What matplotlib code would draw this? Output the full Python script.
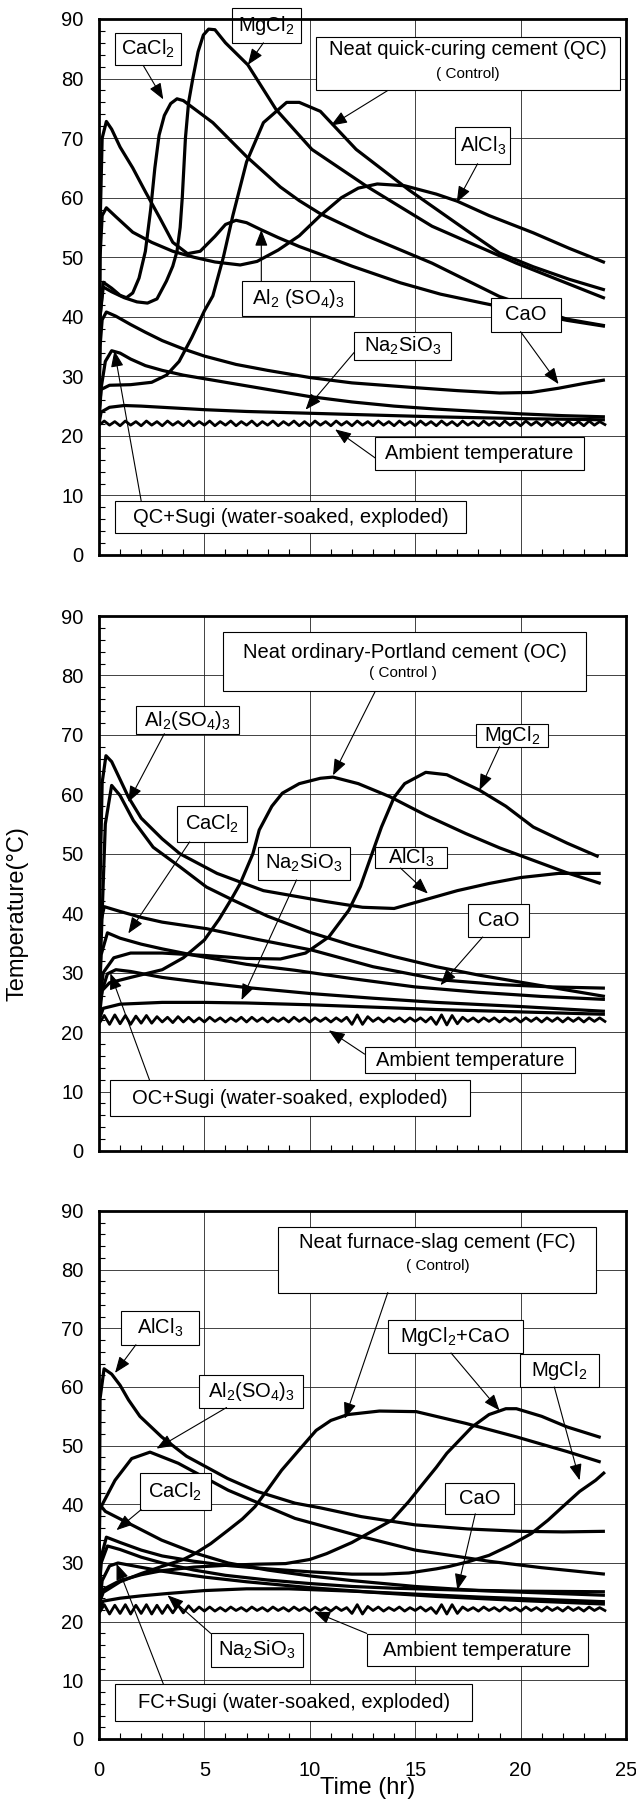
import matplotlib
matplotlib.use("Agg")
import matplotlib.pyplot as plt
from matplotlib.patches import Rectangle
from matplotlib.ticker import MultipleLocator

plt.rcParams['font.family'] = ['Liberation Sans', 'DejaVu Sans']
plt.rcParams['mathtext.fontset'] = 'custom'
plt.rcParams['mathtext.rm'] = 'Liberation Sans'
plt.rcParams['mathtext.it'] = 'Liberation Sans'
plt.rcParams['mathtext.bf'] = 'Liberation Sans:bold'

# ---------------- data: Panel 1 (quick-curing cement, QC) ----------------
qc_control_t = [0, 0.1, 0.5, 1.5, 2.5, 3.2, 3.8, 4.4, 5.0, 5.4, 5.9, 6.35, 7.0, 7.8, 8.9, 9.5, 10.5, 12.2, 14.7, 17.4, 19.0, 20.6, 22.3, 24.0]
qc_control_T = [24, 27.8, 28.5, 28.6, 29.0, 30.2, 32.5, 36.5, 41.0, 43.5, 50.0, 57.0, 66.0, 72.6, 76.0, 76.0, 74.5, 68.1, 61.3, 54.6, 50.7, 48.4, 46.3, 44.5]
qc_mgcl2_t = [0, 0.05, 0.2, 0.6, 1.2, 1.8, 2.3, 2.75, 3.2, 3.5, 3.7, 3.85, 3.95, 4.1, 4.25, 4.45, 4.7, 4.95, 5.2, 5.5, 6.0, 7.06, 8.4, 10.1, 12.7, 15.8, 19.8, 24.0]
qc_mgcl2_T = [24, 40, 45.0, 44.2, 43.2, 42.5, 42.3, 43.0, 46.0, 48.5, 51.0, 55.0, 60.0, 70.0, 76.0, 80.0, 84.5, 87.3, 88.3, 88.2, 86.0, 82.3, 74.8, 68.1, 61.9, 55.2, 49.0, 43.1]
qc_cacl2_t = [0, 0.05, 0.2, 0.6, 1.0, 1.3, 1.6, 1.9, 2.2, 2.45, 2.65, 2.85, 3.1, 3.4, 3.7, 4.0, 5.4, 7.0, 8.6, 9.5, 10.5, 12.7, 15.8, 19.0, 22.2, 24.0]
qc_cacl2_T = [24, 40, 45.8, 44.8, 43.6, 43.2, 44.0, 46.5, 51.0, 58.0, 65.0, 70.5, 73.8, 75.8, 76.6, 76.3, 72.6, 66.9, 61.8, 59.5, 57.3, 53.6, 49.0, 43.4, 39.6, 38.5]
qc_al2so4_t = [0, 0.05, 0.15, 0.35, 0.6, 1.0, 1.6, 2.2, 2.9, 3.5, 4.2, 4.8, 5.5, 6.0, 6.5, 7.0, 7.7, 8.5, 9.5, 10.5, 12.0, 14.3, 16.2, 18.2, 20.0, 22.2, 24.0]
qc_al2so4_T = [24, 55, 70, 72.8, 71.5, 68.5, 65.0, 61.0, 56.5, 52.5, 50.6, 51.0, 53.5, 55.5, 56.2, 55.8, 54.6, 53.3, 51.8, 50.5, 48.5, 45.7, 43.8, 42.3, 41.0, 39.4, 38.4]
qc_alcl3_t = [0, 0.05, 0.15, 0.35, 0.8, 1.6, 2.5, 3.5, 4.5, 5.5, 6.7, 7.5, 8.5, 9.5, 10.5, 11.5, 12.3, 13.2, 14.5, 16.0, 17.0, 18.5, 20.6, 22.3, 24.0]
qc_alcl3_T = [24, 50, 57, 58.3, 56.8, 54.2, 52.5, 51.0, 50.0, 49.2, 48.7, 49.3, 51.2, 53.6, 57.0, 60.0, 61.6, 62.3, 62.0, 60.6, 59.4, 57.0, 54.1, 51.5, 49.1]
qc_cao_t = [0, 0.05, 0.15, 0.35, 0.8, 1.5, 2.2, 3.0, 4.0, 5.0, 6.5, 8.0, 10.0, 12.0, 15.0, 17.0, 19.0, 20.5, 21.8, 23.0, 24.0]
qc_cao_T = [24, 35, 39.5, 40.8, 40.1, 38.7, 37.4, 36.0, 34.6, 33.4, 32.0, 31.0, 29.8, 28.9, 28.1, 27.6, 27.2, 27.3, 28.0, 28.8, 29.4]
qc_sugi_t = [0, 0.1, 0.3, 0.6, 1.0, 1.5, 2.2, 3.0, 4.0, 5.0, 6.0, 7.0, 8.0, 10.0, 12.0, 14.0, 16.0, 18.0, 20.0, 22.0, 24.0]
qc_sugi_T = [22, 28, 32.5, 34.3, 33.9, 32.9, 31.8, 31.0, 30.2, 29.6, 29.0, 28.4, 27.8, 26.6, 25.7, 25.0, 24.5, 24.1, 23.7, 23.4, 23.2]
qc_na2sio3_t = [0, 0.1, 0.5, 1.2, 2.0, 3.0, 5.0, 7.0, 10.0, 13.0, 16.0, 20.0, 24.0]
qc_na2sio3_T = [22, 24.0, 24.8, 25.1, 25.0, 24.8, 24.4, 24.1, 23.8, 23.5, 23.2, 22.9, 22.7]

# ambient temperature sampling times (hr)
amb_t = [0, 0.25, 0.5, 0.75, 1, 1.25, 1.5, 1.75, 2, 2.25, 2.5, 2.75,
         3, 3.25, 3.5, 3.75, 4, 4.25, 4.5, 4.75, 5, 5.25, 5.5, 5.75,
         6, 6.25, 6.5, 6.75, 7, 7.25, 7.5, 7.75, 8, 8.25, 8.5, 8.75,
         9, 9.25, 9.5, 9.75, 10, 10.25, 10.5, 10.75, 11, 11.25, 11.5, 11.75,
         12, 12.25, 12.5, 12.75, 13, 13.25, 13.5, 13.75, 14, 14.25, 14.5, 14.75,
         15, 15.25, 15.5, 15.75, 16, 16.25, 16.5, 16.75, 17, 17.25, 17.5, 17.75,
         18, 18.25, 18.5, 18.75, 19, 19.25, 19.5, 19.75, 20, 20.25, 20.5, 20.75,
         21, 21.25, 21.5, 21.75, 22, 22.25, 22.5, 22.75, 23, 23.25, 23.5, 23.75, 24]
qc_amb = [21.8, 22.5, 21.8, 22.4, 21.7, 22.5, 21.8, 22.4, 21.7, 22.5, 21.8, 22.4,
          21.7, 22.5, 21.8, 22.4, 21.7, 22.5, 21.7, 22.4, 21.8, 22.5, 21.7, 22.4,
          21.8, 22.5, 21.7, 22.4, 21.8, 22.5, 21.7, 22.4, 21.8, 22.5, 21.7, 22.4,
          21.8, 22.5, 21.7, 22.4, 21.7, 22.5, 21.8, 22.4, 21.7, 22.5, 21.8, 22.4,
          21.7, 22.5, 21.8, 22.4, 21.7, 22.5, 21.8, 22.4, 21.7, 22.5, 21.8, 22.4,
          21.7, 22.5, 21.8, 22.4, 21.7, 22.5, 21.8, 22.4, 21.7, 22.5, 21.8, 22.4,
          21.7, 22.5, 21.8, 22.4, 21.7, 22.5, 21.8, 22.4, 21.7, 22.5, 21.8, 22.4,
          21.7, 22.5, 21.8, 22.4, 21.7, 22.5, 21.8, 22.4, 21.7, 22.5, 21.8, 22.4, 21.9]

# ---------------- data: Panel 2 (ordinary-Portland cement, OC) ----------------
oc_control_t = [0, 0.15, 0.5, 1.5, 3.0, 4.0, 5.0, 5.7, 6.3, 6.7, 7.3, 7.6, 8.2, 8.7, 9.5, 10.5, 11.1, 12.3, 13.8, 15.5, 17.4, 19.0, 20.6, 22.2, 23.8]
oc_control_T = [24, 27, 28.3, 29.2, 30.5, 32.5, 35.5, 39.0, 42.5, 45.0, 50.0, 54.0, 58.0, 60.2, 61.8, 62.7, 62.9, 61.8, 59.6, 56.5, 53.4, 51.0, 48.9, 46.8, 45.0]
oc_mgcl2_t = [0, 0.2, 0.7, 1.5, 3.0, 5.0, 7.0, 8.6, 9.8, 10.9, 11.85, 12.4, 12.8, 13.4, 14.0, 14.5, 15.5, 16.5, 18.05, 19.3, 20.6, 22.2, 23.7]
oc_mgcl2_T = [24, 30, 32.5, 33.3, 33.3, 32.9, 32.4, 32.3, 33.3, 36.0, 40.5, 44.5, 48.5, 54.5, 59.5, 61.8, 63.7, 63.3, 60.7, 58.0, 54.5, 51.8, 49.5]
oc_alcl3_t = [0, 0.05, 0.15, 0.33, 0.6, 1.0, 1.4, 2.0, 3.0, 3.84, 5.6, 7.8, 10.7, 12.5, 14.0, 15.5, 17.0, 18.5, 20.0, 21.8, 23.8]
oc_alcl3_T = [24, 45, 62, 66.5, 65.5, 62.5, 59.5, 56.0, 52.5, 50.0, 46.7, 43.8, 42.0, 41.0, 40.8, 42.3, 43.8, 45.0, 46.0, 46.7, 46.7]
oc_al2so4_t = [0, 0.1, 0.3, 0.6, 1.0, 1.63, 2.57, 3.84, 5.1, 6.36, 8.0, 10.0, 12.0, 14.0, 16.0, 18.0, 20.0, 22.0, 24.0]
oc_al2so4_T = [24, 35, 55, 61.5, 59.8, 55.6, 51.1, 47.8, 44.4, 42.2, 39.5, 36.8, 34.6, 32.7, 31.0, 29.6, 28.4, 27.2, 26.0]
oc_cao_t = [0, 0.05, 0.25, 1.0, 2.0, 3.0, 5.1, 7.5, 10.1, 13.0, 16.2, 19.0, 21.5, 24.0]
oc_cao_T = [24, 38, 41.1, 40.3, 39.3, 38.5, 37.4, 35.6, 33.8, 31.0, 28.8, 28.0, 27.6, 27.4]
oc_cacl2_t = [0, 0.1, 0.4, 1.0, 2.0, 3.0, 4.55, 7.0, 9.3, 12.0, 15.0, 18.0, 21.0, 24.0]
oc_cacl2_T = [24, 33, 36.7, 35.8, 34.8, 34.0, 32.9, 31.4, 30.4, 29.0, 27.6, 26.7, 26.0, 25.5]
oc_sugi_t = [0, 0.15, 0.4, 0.8, 1.5, 3.0, 5.0, 7.0, 10.0, 13.0, 16.0, 20.0, 24.0]
oc_sugi_T = [22, 27, 29.8, 30.5, 30.2, 29.2, 28.3, 27.5, 26.5, 25.7, 25.0, 24.3, 23.5]
oc_na2sio3_t = [0, 0.2, 1.0, 3.0, 5.0, 7.0, 10.0, 13.0, 16.0, 20.0, 24.0]
oc_na2sio3_T = [22, 24.0, 24.7, 25.0, 25.0, 24.9, 24.6, 24.2, 23.8, 23.4, 23.0]
oc_amb = [21.4, 22.8, 21.3, 22.9, 21.4, 22.8, 21.3, 22.7, 21.5, 22.8, 21.5, 22.6,
          21.7, 22.5, 21.6, 22.6, 21.7, 22.5, 21.7, 22.4, 21.7, 22.5, 21.8, 22.4,
          21.7, 22.4, 21.8, 22.5, 21.7, 22.5, 21.8, 22.4, 21.7, 22.4, 21.8, 22.4,
          21.7, 22.5, 21.8, 22.4, 21.7, 22.4, 21.8, 22.4, 21.7, 22.4, 21.8, 22.5,
          21.3, 22.9, 21.3, 22.6, 21.8, 22.4, 21.7, 22.4, 21.8, 22.4, 21.7, 22.4,
          21.8, 22.4, 21.7, 22.5, 21.3, 22.9, 21.2, 22.8, 21.4, 22.5, 21.8, 22.4,
          21.7, 22.4, 21.8, 22.4, 21.7, 22.4, 21.8, 22.4, 21.7, 22.4, 21.8, 22.4,
          21.7, 22.4, 21.8, 22.4, 21.7, 22.4, 21.8, 22.4, 21.7, 22.4, 21.8, 22.4, 21.8]

# ---------------- data: Panel 3 (furnace-slag cement, FC) ----------------
fc_control_t = [0, 0.2, 1.0, 2.0, 2.97, 4.0, 4.55, 5.3, 6.13, 6.8, 7.4, 8.0, 8.66, 9.5, 10.3, 11.0, 11.8, 13.3, 15.05, 17.4, 19.8, 22.2, 23.8]
fc_control_T = [23, 25, 26.8, 28.2, 29.4, 30.6, 31.6, 33.3, 35.6, 37.5, 39.6, 42.5, 45.8, 49.3, 52.6, 54.3, 55.3, 55.9, 55.8, 53.8, 51.5, 49.0, 47.2]
fc_mgcl2cao_t = [0, 0.2, 1.0, 2.0, 3.0, 4.5, 6.0, 7.5, 8.85, 10.0, 10.8, 12.0, 13.0, 13.9, 14.7, 15.3, 16.0, 16.5, 17.7, 18.5, 19.3, 19.8, 21.0, 22.2, 23.8]
fc_mgcl2cao_T = [23, 25.5, 27.0, 28.0, 28.7, 29.3, 29.6, 29.8, 29.9, 30.6, 31.6, 33.5, 35.5, 37.3, 40.5, 43.2, 46.3, 48.7, 53.2, 55.3, 56.3, 56.3, 55.0, 53.2, 51.4]
fc_mgcl2_t = [0, 0.1, 0.35, 1.0, 2.0, 3.0, 4.5, 6.0, 8.0, 10.0, 12.0, 13.5, 14.7, 16.0, 16.6, 17.5, 18.5, 19.5, 20.5, 21.3, 22.0, 22.8, 23.56, 24.0]
fc_mgcl2_T = [24, 31, 34.4, 33.5, 32.2, 31.2, 30.3, 29.6, 29.0, 28.5, 28.1, 28.1, 28.3, 29.0, 29.4, 30.2, 31.3, 33.0, 35.0, 37.3, 39.6, 42.2, 44.1, 45.5]
fc_alcl3_t = [0, 0.05, 0.24, 0.6, 1.0, 1.4, 1.94, 2.97, 4.15, 6.1, 7.5, 9.3, 10.5, 12.45, 15.0, 17.5, 20.0, 22.0, 24.0]
fc_alcl3_T = [24, 58, 63.1, 62.2, 60.3, 57.8, 55.0, 51.5, 48.2, 44.4, 42.2, 40.2, 39.4, 37.9, 36.5, 35.8, 35.4, 35.3, 35.4]
fc_al2so4_t = [0, 0.03, 0.13, 0.76, 1.55, 2.42, 3.76, 6.13, 9.3, 12.45, 15.0, 18.5, 21.0, 24.0]
fc_al2so4_T = [24, 39, 39.8, 44.1, 47.8, 48.9, 47.0, 42.4, 37.6, 34.5, 32.2, 30.3, 29.2, 28.1]
fc_cacl2_t = [0, 0.03, 0.3, 1.39, 2.97, 4.55, 6.13, 8.0, 10.0, 12.0, 15.0, 18.0, 21.0, 24.0]
fc_cacl2_T = [24, 40, 38.8, 36.8, 33.9, 31.7, 30.0, 28.8, 27.8, 27.0, 26.0, 25.3, 24.9, 24.5]
fc_cao_t = [0, 0.1, 0.4, 1.0, 2.0, 3.0, 4.5, 6.0, 8.0, 10.0, 12.0, 14.0, 17.0, 20.0, 24.0]
fc_cao_T = [24, 30, 32.9, 32.3, 31.0, 30.0, 28.8, 27.9, 27.1, 26.5, 26.0, 25.7, 25.4, 25.2, 25.1]
fc_sugi_t = [0, 0.15, 0.5, 0.9, 1.5, 3.0, 5.0, 7.0, 10.0, 13.0, 16.0, 20.0, 24.0]
fc_sugi_T = [22, 27, 29.5, 30.0, 29.6, 28.6, 27.6, 26.8, 25.8, 25.0, 24.3, 23.6, 23.0]
fc_na2sio3_t = [0, 0.2, 1.0, 2.0, 3.25, 5.0, 7.0, 9.0, 12.0, 15.0, 18.0, 21.0, 24.0]
fc_na2sio3_T = [22, 23.5, 24.0, 24.4, 24.8, 25.3, 25.6, 25.6, 25.2, 24.7, 24.2, 23.8, 23.4]
fc_amb = [21.4, 22.9, 21.3, 22.8, 21.4, 22.9, 21.3, 22.8, 21.4, 22.9, 21.3, 22.8,
          21.4, 22.8, 21.5, 22.8, 21.5, 22.7, 21.7, 22.5, 21.8, 22.5, 21.8, 22.4,
          21.8, 22.5, 21.9, 22.4, 21.8, 22.5, 21.9, 22.4, 21.8, 22.5, 21.9, 22.4,
          21.8, 22.5, 21.9, 22.4, 21.8, 22.5, 21.9, 22.4, 21.8, 22.5, 21.9, 22.4,
          21.4, 22.9, 21.3, 22.6, 21.9, 22.5, 21.8, 22.4, 21.9, 22.5, 21.8, 22.4,
          21.9, 22.5, 21.8, 22.4, 21.4, 22.9, 21.3, 22.9, 21.4, 22.5, 21.9, 22.4,
          21.8, 22.5, 21.9, 22.4, 21.8, 22.5, 21.9, 22.4, 21.8, 22.5, 21.9, 22.4,
          21.8, 22.5, 21.9, 22.4, 21.8, 22.5, 21.9, 22.4, 21.8, 22.5, 21.9, 22.4, 21.9]

x_ticks = [0, 5, 10, 15, 20, 25]
y_ticks = [0, 10, 20, 30, 40, 50, 60, 70, 80, 90]

# ---------------- figure ----------------
W, H = 636, 1802
fig = plt.figure(figsize=(W / 100, H / 100), dpi=100)
FS = 14.5
LFS = 17
LEFT, RIGHT = 99, 626
panels_px = [(19, 555), (616, 1151), (1211, 1739)]
axes = []
for (top, bot) in panels_px:
    ax = fig.add_axes([LEFT / W, 1 - bot / H, (RIGHT - LEFT) / W, (bot - top) / H])
    axes.append(ax)

def style(ax, show_x):
    ax.set_xlim(0, 25)
    ax.set_ylim(0, 90)
    ax.set_xticks(x_ticks)
    ax.set_yticks(y_ticks)
    ax.xaxis.set_minor_locator(MultipleLocator(1))
    ax.yaxis.set_minor_locator(MultipleLocator(2))
    ax.grid(True, which='major', color='#222222', lw=0.6, zorder=1)
    ax.set_axisbelow(True)
    ax.tick_params(which='both', direction='in', top=False, right=False, color='black')
    ax.tick_params(which='major', length=0, labelsize=FS, pad=11)
    ax.tick_params(which='minor', length=4, width=0.8)
    ax.tick_params(axis='x', which='major', pad=16)
    if not show_x:
        ax.set_xticklabels([])
    for s in ax.spines.values():
        s.set_linewidth(2.0)
        s.set_zorder(7)

def curve(ax, t, T):
    ax.plot(t, T, color='black', lw=2.3, solid_joinstyle='round', solid_capstyle='butt', zorder=3)

def amb(ax, T):
    ax.plot(amb_t, T, color='black', lw=2.0, solid_joinstyle='round', zorder=3)

def box(ax, x0, x1, y0, y1, text, fs=FS, ty=None):
    r = Rectangle((x0, y0), x1 - x0, y1 - y0, facecolor='white', edgecolor='black',
                  lw=0.8, zorder=5, clip_on=False)
    ax.add_patch(r)
    if text is not None:
        ax.text((x0 + x1) / 2, (y0 + y1) / 2 if ty is None else ty, text, ha='center',
                va='center', fontsize=fs, zorder=6, clip_on=False)

def arrow(ax, tail, head):
    ax.annotate('', xy=head, xytext=tail,
                arrowprops=dict(arrowstyle='-|>,head_length=0.9,head_width=0.35',
                                lw=0.8, color='black', shrinkA=0, shrinkB=0,
                                mutation_scale=11),
                zorder=6, annotation_clip=False)

# ---- panel 1 ----
ax = axes[0]
style(ax, False)
for t, T in [(qc_control_t, qc_control_T), (qc_mgcl2_t, qc_mgcl2_T), (qc_cacl2_t, qc_cacl2_T),
             (qc_al2so4_t, qc_al2so4_T), (qc_alcl3_t, qc_alcl3_T), (qc_cao_t, qc_cao_T),
             (qc_sugi_t, qc_sugi_T), (qc_na2sio3_t, qc_na2sio3_T)]:
    curve(ax, t, T)
amb(ax, qc_amb)
box(ax, 0.76, 3.89, 82.2, 87.7, r'CaCl$_2$')
arrow(ax, (2.1, 82.2), (3.05, 76.5))
box(ax, 6.3, 9.6, 86.0, 91.9, r'MgCl$_2$')
arrow(ax, (7.8, 86.0), (7.06, 82.3))
box(ax, 10.3, 24.7, 78.0, 87.0, None)
ax.text(17.5, 84.8, 'Neat quick-curing cement (QC)', ha='center', va='center', fontsize=FS, zorder=6)
ax.text(17.5, 80.8, '( Control)', ha='center', va='center', fontsize=11, zorder=6)
arrow(ax, (13.7, 78.0), (11.0, 72.1))
box(ax, 16.9, 19.5, 65.7, 71.8, r'AlCl$_3$')
arrow(ax, (17.96, 65.7), (16.97, 59.2))
box(ax, 6.8, 12.1, 40.2, 46.0, r'Al$_2$ (SO$_4$)$_3$')
arrow(ax, (7.7, 46.0), (7.7, 54.6))
box(ax, 18.6, 21.9, 37.5, 43.1, 'CaO')
arrow(ax, (20.0, 37.5), (21.8, 28.7))
box(ax, 12.1, 16.7, 32.7, 37.5, r'Na$_2$SiO$_3$')
arrow(ax, (12.1, 34.0), (9.8, 24.4))
box(ax, 13.1, 23.0, 14.3, 19.8, 'Ambient temperature')
arrow(ax, (13.1, 16.3), (11.2, 21.1))
box(ax, 0.77, 17.4, 3.65, 9.1, 'QC+Sugi (water-soaked, exploded)')
arrow(ax, (2.0, 9.1), (0.73, 34.3))

# ---- panel 2 ----
ax = axes[1]
style(ax, False)
for t, T in [(oc_control_t, oc_control_T), (oc_mgcl2_t, oc_mgcl2_T), (oc_alcl3_t, oc_alcl3_T),
             (oc_al2so4_t, oc_al2so4_T), (oc_cao_t, oc_cao_T), (oc_cacl2_t, oc_cacl2_T),
             (oc_sugi_t, oc_sugi_T), (oc_na2sio3_t, oc_na2sio3_T)]:
    curve(ax, t, T)
amb(ax, oc_amb)
box(ax, 5.86, 23.1, 77.3, 87.3, None)
ax.text(14.5, 83.9, 'Neat ordinary-Portland cement (OC)', ha='center', va='center', fontsize=FS, zorder=6)
ax.text(14.4, 80.4, '( Control )', ha='center', va='center', fontsize=11, zorder=6)
arrow(ax, (13.1, 77.3), (11.1, 63.2))
box(ax, 17.9, 21.3, 68.0, 71.9, r'MgCl$_2$')
arrow(ax, (19.0, 68.0), (18.05, 60.7))
box(ax, 13.1, 16.5, 47.6, 51.1, r'AlCl$_3$')
arrow(ax, (14.3, 47.6), (15.6, 43.3))
box(ax, 1.75, 6.65, 70.2, 74.8, r'Al$_2$(SO$_4$)$_3$')
arrow(ax, (3.1, 70.2), (1.39, 58.7))
box(ax, 3.68, 7.0, 52.0, 58.0, r'CaCl$_2$')
arrow(ax, (4.3, 52.0), (1.39, 36.6))
box(ax, 7.55, 11.9, 45.6, 51.2, r'Na$_2$SiO$_3$')
arrow(ax, (9.37, 45.6), (6.76, 25.4))
box(ax, 17.5, 20.4, 36.0, 41.6, 'CaO')
arrow(ax, (18.2, 36.0), (16.2, 27.9))
box(ax, 12.6, 22.6, 13.1, 17.5, 'Ambient temperature')
arrow(ax, (12.6, 16.3), (10.9, 20.3))
box(ax, 0.54, 17.6, 5.9, 11.9, 'OC+Sugi (water-soaked, exploded)')
arrow(ax, (2.4, 11.9), (0.54, 29.9))

# ---- panel 3 ----
ax = axes[2]
style(ax, True)
for t, T in [(fc_control_t, fc_control_T), (fc_mgcl2cao_t, fc_mgcl2cao_T), (fc_mgcl2_t, fc_mgcl2_T),
             (fc_alcl3_t, fc_alcl3_T), (fc_al2so4_t, fc_al2so4_T), (fc_cacl2_t, fc_cacl2_T),
             (fc_cao_t, fc_cao_T), (fc_sugi_t, fc_sugi_T), (fc_na2sio3_t, fc_na2sio3_T)]:
    curve(ax, t, T)
amb(ax, fc_amb)
box(ax, 1.03, 4.74, 67.2, 72.9, r'AlCl$_3$')
arrow(ax, (1.75, 67.2), (0.76, 62.4))
box(ax, 4.74, 9.7, 56.5, 62.0, r'Al$_2$(SO$_4$)$_3$')
arrow(ax, (6.05, 56.5), (2.73, 49.5))
box(ax, 8.5, 23.6, 76.1, 87.3, None)
ax.text(16.05, 84.7, 'Neat furnace-slag cement (FC)', ha='center', va='center', fontsize=FS, zorder=6)
ax.text(16.05, 80.7, '( Control)', ha='center', va='center', fontsize=11, zorder=6)
arrow(ax, (13.7, 76.1), (11.66, 54.6))
box(ax, 13.7, 20.1, 65.8, 71.4, r'MgCl$_2$+CaO')
arrow(ax, (16.7, 65.8), (19.0, 56.0))
box(ax, 19.95, 23.7, 60.0, 65.6, r'MgCl$_2$')
arrow(ax, (21.6, 60.0), (22.8, 44.1))
box(ax, 16.4, 19.7, 38.4, 43.7, 'CaO')
arrow(ax, (17.85, 38.4), (17.0, 25.4))
box(ax, 1.95, 5.3, 39.0, 45.3, r'CaCl$_2$')
arrow(ax, (2.0, 39.1), (0.83, 35.6))
box(ax, 5.3, 9.7, 12.3, 18.0, r'Na$_2$SiO$_3$')
arrow(ax, (5.3, 18.0), (3.25, 24.5))
box(ax, 12.7, 23.2, 12.4, 17.9, 'Ambient temperature')
arrow(ax, (12.7, 18.0), (10.2, 21.7))
box(ax, 0.77, 17.7, 3.1, 9.4, 'FC+Sugi (water-soaked, exploded)')
arrow(ax, (3.05, 9.4), (0.83, 29.9))

fig.text(18 / W, 1 - 914 / H, 'Temperature(\u00b0C)', rotation=90, ha='center', va='center', fontsize=LFS)
fig.text(0.578, 1 - 1788 / H, 'Time (hr)', ha='center', va='center', fontsize=LFS)

fig.savefig('out.png', dpi=100)
